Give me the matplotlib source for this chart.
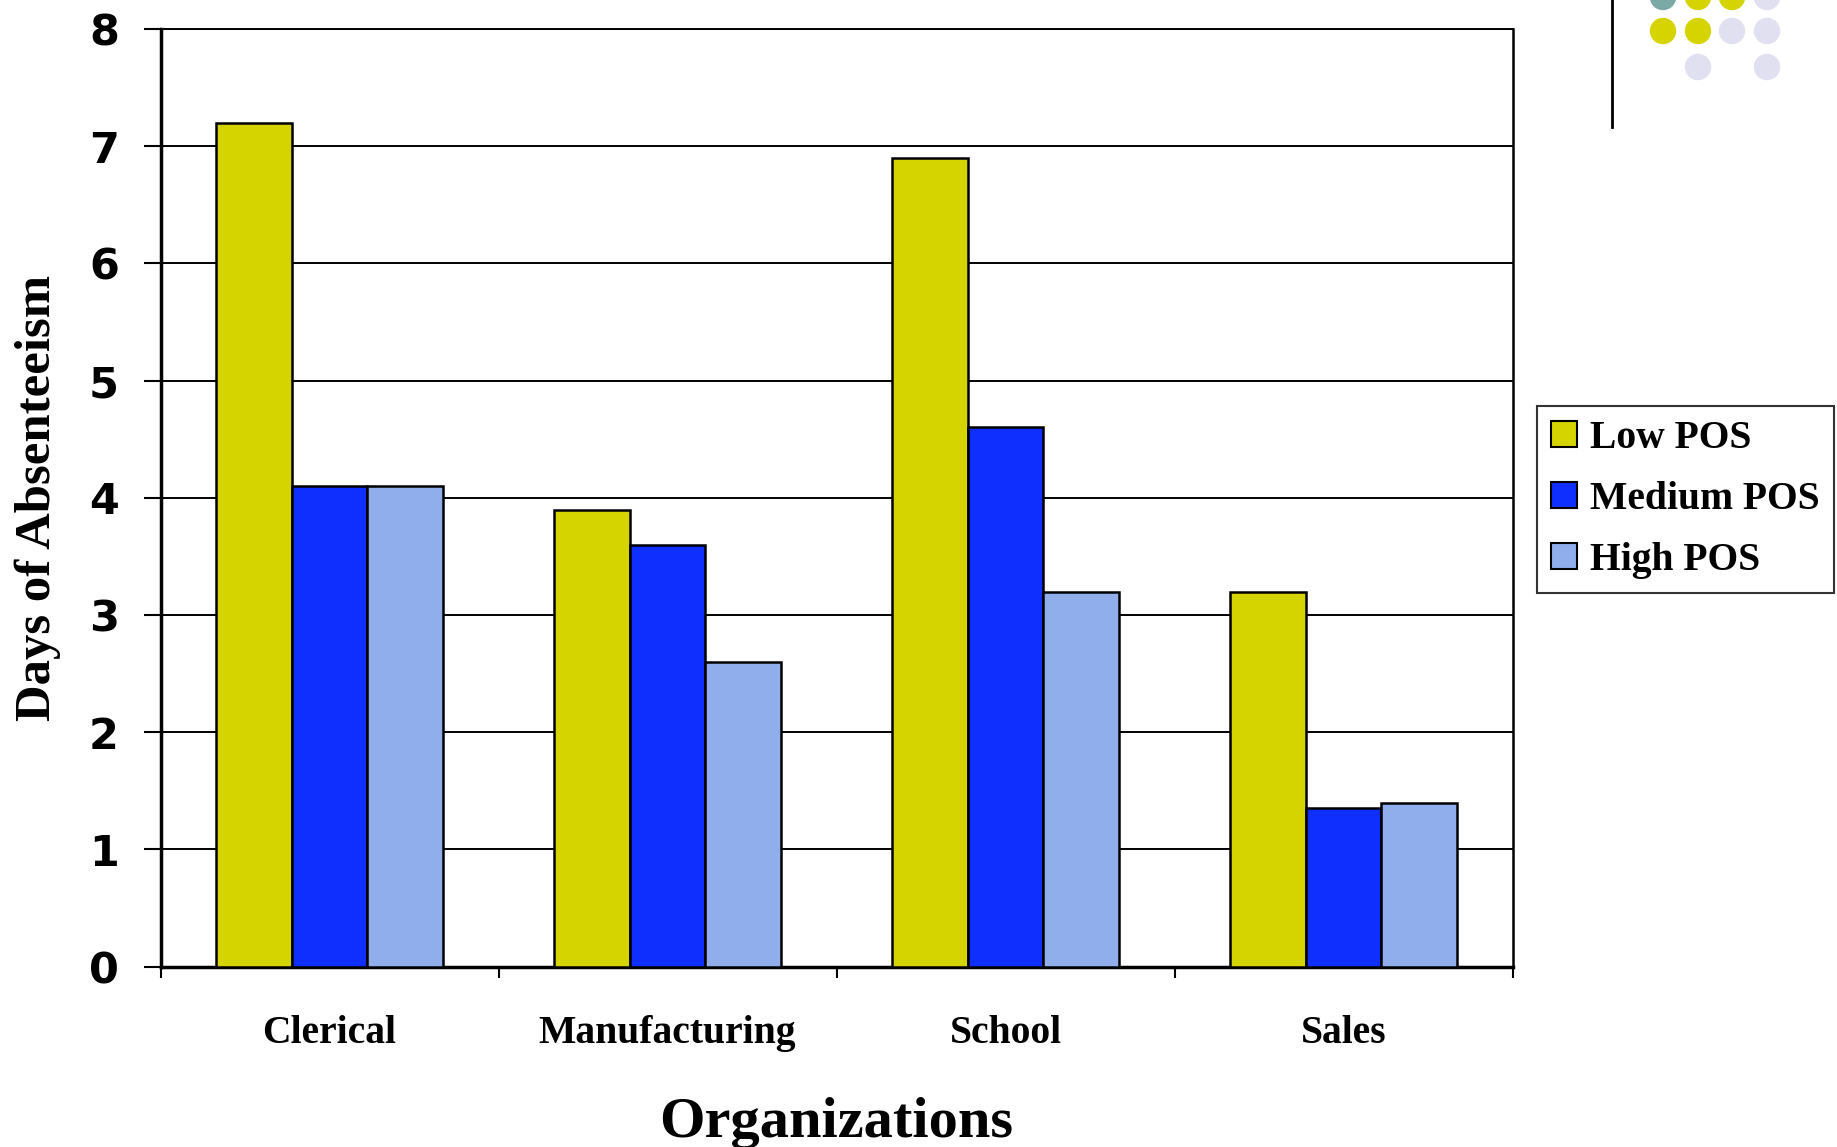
import numpy as np
import matplotlib
matplotlib.use('Agg')
import matplotlib.pyplot as plt
from matplotlib.patches import Circle, Patch

# data
categories = ['Clerical', 'Manufacturing', 'School', 'Sales']
series = ['Low POS', 'Medium POS', 'High POS']
low_pos = [7.2, 3.9, 6.9, 3.2]
medium_pos = [4.1, 3.6, 4.6, 1.35]
high_pos = [4.1, 2.6, 3.2, 1.4]
colors = ['#D6D400', '#0F2FFF', '#8FAEEB']
yticks = [0, 1, 2, 3, 4, 5, 6, 7, 8]

# decorative dots in top right corner (figure pixels, colour)
dots_x = [1663, 1698, 1732, 1767]
dots_y = [-3, 31, 67]
dot_colors = [['#7BA9A6', '#D6D400', '#D6D400', '#E0E0F0'],
              ['#D6D400', '#D6D400', '#E0E0F0', '#E0E0F0'],
              [None, '#E0E0F0', None, '#E0E0F0']]

W, H = 1837, 1147
fig = plt.figure(figsize=(W/100, H/100), dpi=100)
ax = fig.add_axes([160.5/W, 1-966.6/H, (1512.6-160.5)/W, (966.6-29)/H])

x = np.arange(len(categories))
bw = 0.2236
for i, vals in enumerate([low_pos, medium_pos, high_pos]):
    ax.bar(x + (i-1)*bw, vals, width=bw, color=colors[i], edgecolor='black',
           linewidth=1.8, zorder=3, label=series[i])

ax.set_xlim(-0.5, len(categories)-0.5)
ax.set_ylim(0, 8)
ax.set_yticks(yticks)
ax.set_yticklabels([str(v) for v in yticks], fontfamily='DejaVu Sans',
                   fontweight='bold', fontsize=31)
ax.tick_params(axis='y', length=12, width=1.5, pad=18, direction='out')
ax.grid(axis='y', color='black', linewidth=1.4, zorder=0)

# category boundaries as major ticks, labels on minor ticks
ax.set_xticks(np.arange(-0.5, len(categories), 1.0))
ax.set_xticklabels([])
ax.tick_params(axis='x', which='major', length=8, width=1.5, direction='out')
ax.set_xticks(x, minor=True)
ax.set_xticklabels(categories, minor=True, fontfamily='Liberation Serif',
                   fontweight='bold', fontsize=28.5)
ax.tick_params(axis='x', which='minor', length=0, pad=35)

ax.spines['left'].set_linewidth(2.5)
ax.spines['bottom'].set_linewidth(2.5)
ax.spines['right'].set_linewidth(1.8)
ax.spines['top'].set_linewidth(1.4)

ax.set_xlabel('Organizations', fontfamily='Liberation Serif', fontweight='bold',
              fontsize=42, labelpad=32)
ax.set_ylabel('Days of Absenteeism', fontfamily='Liberation Serif',
              fontweight='bold', fontsize=36.5, labelpad=20)

handles = [Patch(facecolor=colors[i], edgecolor='black', linewidth=1.5)
           for i in range(3)]
leg = fig.legend(handles, series, loc='upper left',
                 bbox_to_anchor=(1537/W, 1-406/H), frameon=True, fancybox=False,
                 edgecolor='black', handlelength=0.64, handleheight=0.64,
                 handletextpad=0.33, labelspacing=0.6, borderpad=0.36,
                 borderaxespad=0,
                 prop={'family': 'Liberation Serif', 'weight': 'bold', 'size': 28.5})
leg.get_frame().set_linewidth(1.5)

# decoration: vertical rule and dots
fig.add_artist(plt.Line2D([1612/W, 1612/W], [1, 1-127/H], color='black',
                          linewidth=2, transform=fig.transFigure))
for r, yy in enumerate(dots_y):
    for c, xx in enumerate(dots_x):
        if dot_colors[r][c] is None:
            continue
        fig.add_artist(Circle((xx, H-yy), 12.5, color=dot_colors[r][c],
                              transform=None))

fig.savefig('out.png', dpi=100)
